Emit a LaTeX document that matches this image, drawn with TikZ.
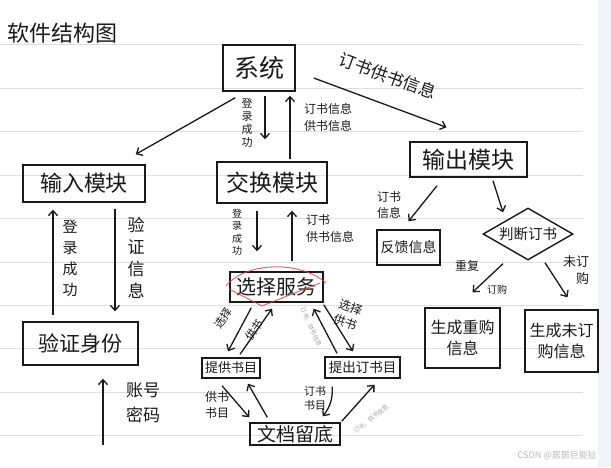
\documentclass[tikz,border=0pt]{standalone}
\usepackage{fontspec}
\setmainfont{Noto Sans CJK SC}
\usetikzlibrary{arrows.meta,shapes.geometric}
\definecolor{ink}{RGB}{25,25,25}
\definecolor{rulec}{RGB}{222,222,222}
\definecolor{stripc}{RGB}{240,244,250}
\definecolor{scribc}{RGB}{215,70,70}
\begin{document}
\begin{tikzpicture}[x=1pt,y=-1pt,
  f/.style 2 args={font=\fontsize{#1}{#2}\selectfont},
  box/.style={draw=ink, line width=1.4pt, inner sep=0pt, align=center, text=ink},
  arr/.style={draw=ink, line width=1.3pt, -{Straight Barb[length=5pt,width=9pt]}},
  lbl/.style={text=ink, inner sep=0pt, align=center},
  tiny/.style={text=gray!75, inner sep=0pt, font=\fontsize{6}{7}\selectfont},
  rule/.style={draw=rulec, line width=0.8pt},
  scrib/.style={draw=scribc, line width=1pt, opacity=0.8},
]
\fill[white] (0,0) rectangle (611,467);
\useasboundingbox (0,0) rectangle (611,467);
\fill[stripc] (598,0) rectangle (611,467);
\foreach \yy in {44,88,131,175,218,262,305,348,392,435}
  \draw[rule] (0,\yy) -- (583,\yy);

% title
\node[lbl,f={22}{26}] (title) at (63,33) {软件结构图};

% boxes
\node[box,minimum width=72pt,minimum height=46pt,f={25}{29}] (sys) at (259,68) {系统};
\node[box,minimum width=122pt,minimum height=37pt,f={22}{26}] (inmod) at (84,183.5) {输入模块};
\node[box,minimum width=115pt,minimum height=43pt,f={21}{25}] (verify) at (80.5,343.5) {验证身份};
\node[box,minimum width=110pt,minimum height=41pt,f={23}{27}] (exch) at (272,182.5) {交换模块};
\node[box,minimum width=93pt,minimum height=30pt,f={20}{24}] (select) at (276.5,287) {选择服务};
\node[box,minimum width=58pt,minimum height=20pt,f={13}{15}] (provide) at (231,368) {提供书目};
\node[box,minimum width=75pt,minimum height=21pt,f={13.5}{15}] (order) at (362.5,367.5) {提出订书目};
\node[box,minimum width=90pt,minimum height=22pt,f={19}{22}] (doc) at (295,434) {文档留底};
\node[box,minimum width=117pt,minimum height=35pt,f={23}{27}] (outmod) at (468.5,159.5) {输出模块};
\node[box,minimum width=63pt,minimum height=35pt,f={14}{17}] (feedback) at (408.5,247.5) {反馈信息};
\node[draw=ink,line width=1.4pt,diamond,aspect=1.75,inner sep=0pt,minimum width=90pt,minimum height=52pt,text=ink,f={14.5}{17}] (judge) at (528,234) {判断订书};
\node[box,minimum width=75pt,minimum height=60pt,f={16}{21}] (dup) at (462.5,338) {生成重购\\信息};
\node[box,minimum width=73pt,minimum height=62pt,f={16}{21}] (notord) at (561.5,341) {生成未订\\购信息};

% top
\draw[arr] ([shift={(13,6)}]sys.south west) -- ([shift={(-10,-10)}]inmod.north east);
\draw[arr] ([shift={(18,10)}]sys.east) -- ([shift={(-22,-14)}]outmod.north);
\draw[arr] ([shift={(6,4)}]sys.south) -- ([shift={(-7,-22)}]exch.north);
\draw[arr] ([shift={(18,-2)}]exch.north) -- ([shift={(31,4)}]sys.south);
\node[lbl,f={11}{13}] at (247,123) {登\\录\\成\\功};
\node[lbl,f={12}{17},align=left] at (328,117) {订书信息\\供书信息};
\node[lbl,f={17}{20},rotate=-20] at (388,76) {订书供书信息};

% left
\draw[arr] ([shift={(-27.5,-6)}]verify.north) -- ([shift={(-31,7)}]inmod.south);
\draw[arr] ([shift={(31,6)}]inmod.south) -- ([shift={(34.5,-10)}]verify.north);
\node[lbl,f={15}{21}] at (70,258) {登\\录\\成\\功};
\node[lbl,f={17}{22}] at (136,258) {验\\证\\信\\息};
\coordinate (acc) at (103,445);
\draw[arr] (acc) -- ([shift={(22.5,13)}]verify.south);
\node[lbl,f={17}{25},align=left] at (143,403) {账号\\密码};

% middle
\draw[arr] ([shift={(-15,7)}]exch.south) -- ([shift={(-19.5,-20)}]select.north);
\draw[arr] ([shift={(15.5,-10)}]select.north) -- ([shift={(20,7)}]exch.south);
\node[lbl,f={10}{12.5}] at (237,232) {登\\录\\成\\功};
\node[lbl,f={12}{17},align=left] at (330,228) {订书\\供书信息};

% red scribble
\draw[scrib] (226,286) .. controls (245,262) and (300,260) .. (326,283);
\draw[scrib] (229,289) -- (262,306) -- (320,283);

% cycle
\draw[arr] ([shift={(22,5)}]select.south west) -- ([shift={(-3,-6)}]provide.north);
\draw[arr] ([shift={(9,-3)}]provide.north) -- ([shift={(-4.5,6)}]select.south);
\node[lbl,f={11}{13},rotate=55] at (223,318) {选择};
\node[lbl,f={11}{13},rotate=55] at (254,330) {供书};
\draw[arr] ([shift={(0,2)}]select.south east) -- ([shift={(-9.5,-5)}]order.north);
\draw[arr] ([shift={(-25.5,-3)}]order.north) -- ([shift={(-10,6)}]select.south east);
\node[lbl,f={12}{16},rotate=-20] at (348,315) {选择\\供书};
\node[tiny,rotate=-65] at (311,327) {订书、供书信息};

\draw[arr] ([shift={(-9,7)}]provide.south) -- ([shift={(0,-5)}]doc.north west);
\draw[arr] ([shift={(18,-5)}]doc.north west) -- ([shift={(17,5)}]provide.south);
\node[lbl,f={12}{16}] at (217,405) {供书\\书目};
\draw[arr] ([shift={(8,8)}]order.south west) to[bend left=20] ([shift={(-18,-6)}]doc.north east);
\node[lbl,f={11}{14}] at (315,398) {订书\\书目};
\draw[arr] ([shift={(1,-1)}]doc.north east) -- ([shift={(12,6)}]order.south);
\node[tiny,rotate=38] at (371,419) {订书、供书信息};

% right
\draw[arr] ([shift={(-31.5,8)}]outmod.south) -- ([shift={(0,-8)}]feedback.north);
\node[lbl,f={12}{16}] at (389,205) {订书\\信息};
\draw[arr] ([shift={(24.5,3)}]outmod.south) -- ([shift={(-25,5)}]judge.north);
\draw[arr] ([shift={(-25,3)}]judge.south) -- ([shift={(10,-15)}]dup.north);
\draw[arr] ([shift={(17,2)}]judge.south) -- ([shift={(6,-12)}]notord.north);
\node[lbl,f={12}{14}] at (467,266) {重复};
\node[lbl,f={10}{12}] at (497,290) {订购};
\node[lbl,f={13}{17},align=right] at (576,270) {未订\\购};

% watermark
\node[text=gray!55,inner sep=0pt,anchor=east,f={9}{11}] (wm) at (597,455) {CSDN @居居巨能扯};
\end{tikzpicture}
\end{document}
